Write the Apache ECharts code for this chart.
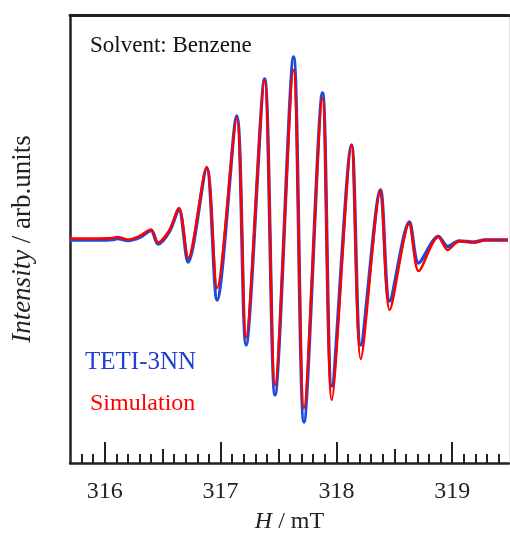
<!DOCTYPE html>
<html>
<head>
<meta charset="utf-8">
<script src="https://cdn.jsdelivr.net/npm/echarts@6/dist/echarts.min.js"></script>
<style>
  html, body { margin: 0; padding: 0; background: #fff; }
  #main { width: 510px; height: 536px; }
</style>
</head>
<body>
<div id="main"></div>
<script>
// field positions (mT)
var field = [315.70, 315.96, 316.07, 316.11, 316.20, 316.30, 316.40, 316.46, 316.56, 316.64,
             316.72, 316.88, 316.97, 317.14, 317.22, 317.38, 317.47, 317.63, 317.72, 317.88,
             317.96, 318.13, 318.21, 318.38, 318.46, 318.63, 318.71, 318.88, 318.96, 319.06,
             319.19, 319.28, 319.48];
// measured spectrum (blue)
var teti = [-1, -1, -0.5, 0.5, -1.5, 1.5, 8.5, -5, 8, 30,
            -23, 71, -61, 123, -106, 160, -156, 182, -183, 146,
            -147, 94, -106, 49, -62, 17, -24, 2.5, -7.5, -2,
            -3, -1, -1];
// simulated spectrum (red)
var simu = [0.5, 0.5, 1, 2, -0.5, 3, 9.5, -3.5, 9, 31,
            -19, 72, -49, 121, -98, 159, -146, 169, -169, 141,
            -161, 94, -120, 49, -71, 16, -32, 2.5, -11, -2,
            -3.5, -1, -1];
var majorTicks = [316, 317, 318, 319];
var halfTicks = [316.5, 317.5, 318.5];
var minorTicks = [];
for (var t = 3158; t <= 3194; t++) {
  if (t % 5 !== 0) minorTicks.push(t / 10);
}

function pairs(xs, ys) {
  var out = [];
  for (var i = 0; i < xs.length; i++) out.push([xs[i], ys[i]]);
  return out;
}

var serif = 'Liberation Serif';
var xMin = 315.7, xMax = 319.49;

function tickAxis(vals, len, showLine, withLabels) {
  return {
    type: 'value', position: 'bottom', min: xMin, max: xMax,
    axisLine: { show: showLine, onZero: false, lineStyle: { color: '#222', width: 2.5 } },
    axisTick: { show: true, inside: true, length: len, customValues: vals,
                lineStyle: { color: '#222', width: 2 } },
    axisLabel: withLabels ? { show: true, customValues: vals, margin: 17,
                fontFamily: serif, fontSize: 24, color: '#222' } : { show: false },
    splitLine: { show: false }
  };
}

var myChart = echarts.init(document.getElementById('main'));

var xMain = tickAxis(majorTicks, 21, true, true);
xMain.name = '{i|H} / mT';
xMain.nameLocation = 'middle';
xMain.nameGap = 47;
xMain.nameTextStyle = { fontFamily: serif, fontSize: 24, color: '#222',
  rich: { i: { fontFamily: serif, fontSize: 24, fontStyle: 'italic', color: '#222' } } };

var option = {
  animation: false,
  grid: { left: 70, right: 1, top: 15, bottom: 73, containLabel: false, outerBoundsMode: 'none' },
  xAxis: [
    xMain,
    tickAxis(halfTicks, 14, false, false),
    tickAxis(minorTicks, 9, false, false),
    { type: 'value', position: 'top', min: xMin, max: xMax,
      axisLine: { show: true, onZero: false, lineStyle: { color: '#222', width: 3 } },
      axisTick: { show: false }, axisLabel: { show: false }, splitLine: { show: false } }
  ],
  yAxis: [
    { type: 'value', min: -224, max: 224, position: 'left',
      axisLine: { show: true, onZero: false, lineStyle: { color: '#222', width: 2.5 } },
      axisTick: { show: false }, axisLabel: { show: false }, splitLine: { show: false },
      name: '{i|Intensity} / arb.units', nameLocation: 'middle', nameGap: 34, nameRotate: 90,
      nameTextStyle: { fontFamily: serif, fontSize: 27, color: '#222',
        rich: { i: { fontFamily: serif, fontSize: 27, fontStyle: 'italic', color: '#222' } } } },
    { type: 'value', min: -224, max: 224, position: 'right',
      axisLine: { show: true, onZero: false, lineStyle: { color: '#e4e4e4', width: 1 } },
      axisTick: { show: false }, axisLabel: { show: false }, splitLine: { show: false } }
  ],
  series: [
    { name: 'TETI-3NN', type: 'line', data: pairs(field, teti), smooth: 0.3,
      symbol: 'none', lineStyle: { color: '#1f4bd8', width: 3.5 } },
    { name: 'Simulation', type: 'line', data: pairs(field, simu), smooth: 0.3,
      symbol: 'none', lineStyle: { color: '#ff0000', width: 2.5 } }
  ],
  graphic: [
    { type: 'text', left: 90, top: 34,
      style: { text: 'Solvent: Benzene', font: '23px "Liberation Serif"', fill: '#111' } },
    { type: 'text', left: 85, top: 350,
      style: { text: 'TETI-3NN', font: '25px "Liberation Serif"', fill: '#1f3fd0' } },
    { type: 'text', left: 90, top: 392,
      style: { text: 'Simulation', font: '24px "Liberation Serif"', fill: '#ff0000' } }
  ]
};

myChart.setOption(option);
</script>
</body>
</html>
